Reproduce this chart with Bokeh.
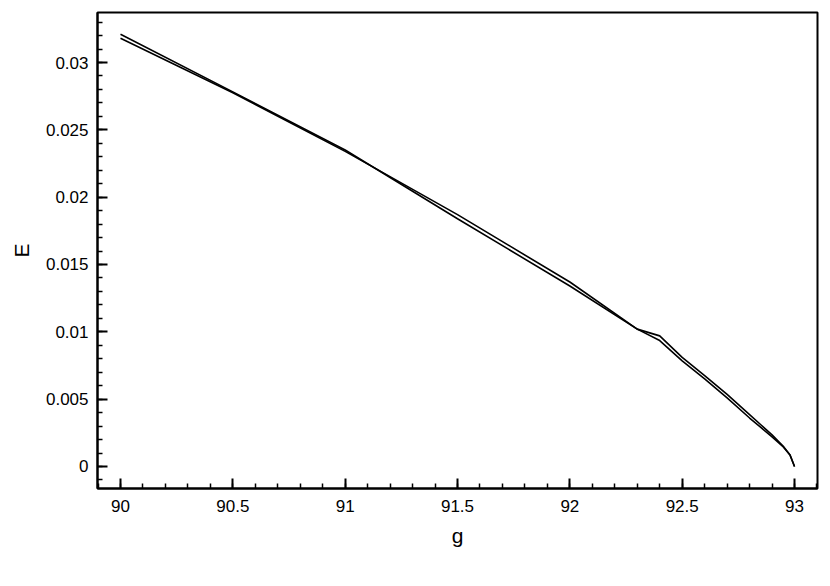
from bokeh.plotting import figure
from bokeh.models import FixedTicker, Range1d
from bokeh.embed import file_html
from bokeh.resources import INLINE
import numpy as np

# Series 1 (upper at g=90)
g1 = [90.0, 90.5, 91.0, 91.5, 92.0, 92.3, 92.4, 92.5, 92.6, 92.7, 92.8, 92.85, 92.9, 92.95, 92.98, 93.0]
E1 = [0.03210, 0.02782, 0.02350, 0.01840, 0.01340, 0.01020, 0.00970, 0.00810, 0.00675, 0.00535, 0.00385, 0.00310, 0.00235, 0.00150, 0.00085, 0.0]
# Series 2 (lower at g=90)
g2 = [90.0, 90.5, 91.0, 91.5, 92.0, 92.3, 92.4, 92.5, 92.6, 92.7, 92.8, 92.85, 92.9, 92.95, 92.98, 93.0]
E2 = [0.03180, 0.02776, 0.02340, 0.01870, 0.01370, 0.01020, 0.00935, 0.00785, 0.00650, 0.00510, 0.00360, 0.00290, 0.00220, 0.00145, 0.00085, 0.0]

x_ticks = [90, 90.5, 91, 91.5, 92, 92.5, 93]
x_tick_labels = ["90", "90.5", "91", "91.5", "92", "92.5", "93"]
y_ticks = [0, 0.005, 0.01, 0.015, 0.02, 0.025, 0.03]
y_tick_labels = ["0", "0.005", "0.01", "0.015", "0.02", "0.025", "0.03"]
x_label = "g"
y_label = "E"

p = figure(width=822, height=578,
           x_range=Range1d(89.8976, 93.1023), y_range=Range1d(-0.001634, 0.033713),
           output_backend="svg", toolbar_location=None,
           min_border_left=97, min_border_right=5, min_border_top=12, min_border_bottom=90)

p.line(g1, E1, line_color="black", line_width=1.6)
p.line(g2, E2, line_color="black", line_width=1.6)

p.xgrid.visible = False
p.ygrid.visible = False
p.outline_line_color = "black"
p.outline_line_width = 2
p.outline_line_alpha = 1.0

x_minor = [round(v, 2) for v in np.arange(89.9, 93.11, 0.1)]
y_minor = [round(v, 4) for v in np.arange(-0.001, 0.0335, 0.001)]
p.xaxis.ticker = FixedTicker(ticks=x_ticks, minor_ticks=x_minor)
p.yaxis.ticker = FixedTicker(ticks=y_ticks, minor_ticks=y_minor)
p.xaxis.major_label_overrides = {t: l for t, l in zip(x_ticks, x_tick_labels)}
p.yaxis.major_label_overrides = {t: l for t, l in zip(y_ticks, y_tick_labels)}

for ax in (p.xaxis, p.yaxis):
    ax.axis_line_width = 2
    ax.axis_line_color = "black"
    ax.major_tick_line_width = 2
    ax.minor_tick_line_width = 1.5
    ax.major_tick_line_color = "black"
    ax.minor_tick_line_color = "black"
    ax.major_tick_in = 10
    ax.major_tick_out = 0
    ax.minor_tick_in = 5
    ax.minor_tick_out = 0
    ax.major_label_text_font = "Liberation Sans"
    ax.major_label_text_font_size = "17px"
    ax.major_label_text_color = "black"
    ax.axis_label_text_font = "Liberation Sans"
    ax.axis_label_text_font_size = "21px"
    ax.axis_label_text_font_style = "normal"
    ax.axis_label_text_color = "black"

p.xaxis.major_label_standoff = 11
p.yaxis.major_label_standoff = 9
p.xaxis.axis_label = x_label
p.yaxis.axis_label = y_label
p.xaxis.axis_label_standoff = 9
p.yaxis.axis_label_standoff = 10

open("out.html", "w").write(file_html(p, INLINE))
